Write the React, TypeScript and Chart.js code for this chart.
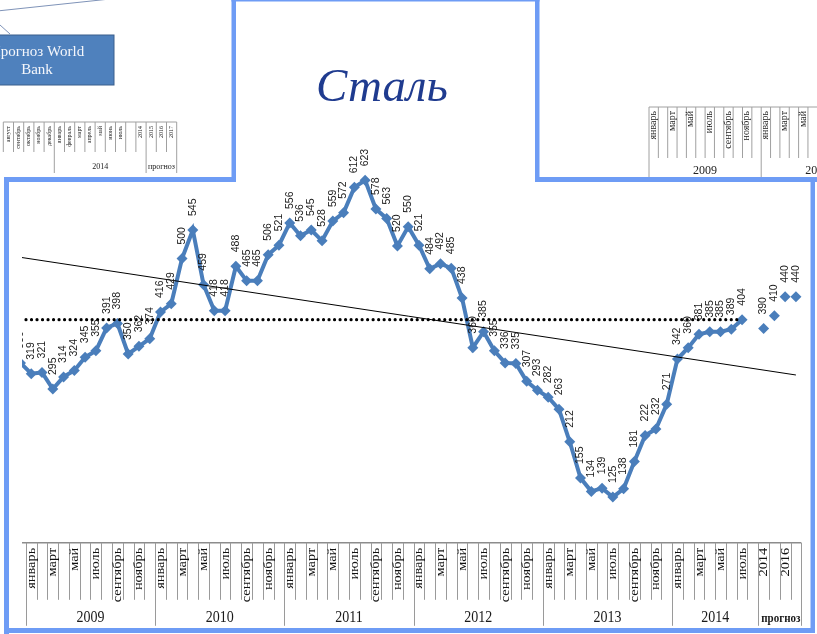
import React, { useEffect, useRef } from "react";
import { Chart, registerables } from "chart.js";

Chart.register(...registerables);

// ---------- data ----------
// Monthly steel price: Dec 2008 ... Jul 2014
const steelPrices = [
  336, 319, 321, 295, 314, 324, 345, 355, 391, 398, 350, 362, 374,
  416, 429, 500, 545, 459, 418, 418, 488, 465, 465, 506, 521,
  556, 536, 545, 528, 559, 572, 612, 623, 578, 563, 520, 550,
  521, 484, 492, 485, 438, 360, 385, 355, 336, 335, 307, 293,
  282, 263, 212, 155, 134, 139, 125, 138, 181, 222, 232, 271,
  342, 360, 381, 385, 385, 389, 404,
];
// World Bank forecast 2014..2017
const forecastYears = ["2014", "2015", "2016", "2017"];
const forecastValues = [390, 410, 440, 440];
const referenceLevel = 404;
const trendStart = 502;
const trendEnd = 317;

const monthNames = [
  "январь", "февраль", "март", "апрель", "май", "июнь",
  "июль", "август", "сентябрь", "октябрь", "ноябрь", "декабрь",
];
const yearLabels = ["2009", "2010", "2011", "2012", "2013", "2014"];
const monthsInYear = [12, 12, 12, 12, 12, 8];
const forecastGroupLabel = "прогноз";

// ---------- category construction ----------
type Cat = { label: string; tick: string; group: number };
const cats: Cat[] = [{ label: "декабрь 2008", tick: "", group: -1 }];
yearLabels.forEach((y, gi) => {
  for (let m = 0; m < monthsInYear[gi]; m++) {
    cats.push({ label: monthNames[m] + " " + y, tick: m % 2 === 0 ? monthNames[m] : "", group: gi });
  }
});
forecastYears.forEach((y, k) => {
  cats.push({ label: "прогноз " + y, tick: k % 2 === 0 ? y : "", group: yearLabels.length });
});
const groupNames = [...yearLabels, forecastGroupLabel];
const N = cats.length;

const mainData: (number | null)[] = cats.map((_, i) => (i < steelPrices.length ? steelPrices[i] : null));
const forecastData: (number | null)[] = cats.map((_, i) => {
  const k = i - (N - forecastValues.length);
  return k >= 0 ? forecastValues[k] : null;
});
const refData: (number | null)[] = cats.map((_, i) => (i < steelPrices.length ? referenceLevel : null));
const trendData: (number | null)[] = cats.map((_, i) => (i === 0 ? trendStart : i === N - 1 ? trendEnd : null));

const SERIES_BLUE = "#4a7ebb";
const FRAME = "#6e9cf5";

const valueLabelPlugin = {
  id: "valueLabels",
  afterDatasetsDraw(chart: any) {
    const ctx = chart.ctx;
    [0, 1].forEach((di) => {
      const meta = chart.getDatasetMeta(di);
      const ds = chart.data.datasets[di];
      meta.data.forEach((el: any, i: number) => {
        const v = ds.data[i];
        if (v == null) return;
        ctx.save();
        ctx.translate(el.x, el.y - 14);
        ctx.rotate(-Math.PI / 2);
        ctx.font = '10.5px "Liberation Sans"';
        ctx.fillStyle = "#1a1a1a";
        ctx.textAlign = "left";
        ctx.textBaseline = "middle";
        ctx.fillText(String(v), 0, 0);
        ctx.restore();
      });
    });
  },
};

const tableAxisPlugin = {
  id: "tableAxis",
  afterDraw(chart: any) {
    const ctx = chart.ctx;
    const xs = chart.scales.x;
    const step = xs.getPixelForValue(1) - xs.getPixelForValue(0);
    const edge = (i: number) => xs.getPixelForValue(i) - step / 2;
    const y0 = chart.chartArea.bottom - 2;
    ctx.save();
    ctx.strokeStyle = "#8c8c8c";
    ctx.lineWidth = 1.5;
    ctx.beginPath();
    ctx.moveTo(edge(0), y0);
    ctx.lineTo(edge(N), y0);
    ctx.stroke();
    ctx.lineWidth = 1;
    ctx.strokeStyle = "#9a9a9a";
    for (let i = 1; i <= N; i++) {
      const isGroupEdge = i === N || cats[i].group !== cats[i - 1].group;
      const x = Math.round(edge(i)) + 0.5;
      ctx.beginPath();
      ctx.moveTo(x, y0);
      ctx.lineTo(x, isGroupEdge ? y0 + 83 : y0 + 57);
      ctx.stroke();
    }
    // month ticks
    cats.forEach((c, i) => {
      if (!c.tick || c.group < 0) return;
      ctx.save();
      ctx.translate(xs.getPixelForValue(i) + 0.5, y0 + 5);
      ctx.scale(1, 1.25);
      ctx.rotate(-Math.PI / 2);
      ctx.font = '11.5px "Liberation Serif"';
      ctx.fillStyle = "#111";
      ctx.textAlign = "right";
      ctx.textBaseline = "middle";
      ctx.fillText(c.tick, 0, 0);
      ctx.restore();
    });
    // group labels
    groupNames.forEach((g, gi) => {
      const idx = cats.map((c, i) => (c.group === gi ? i : -1)).filter((i) => i >= 0);
      const a = edge(idx[0]);
      const b = edge(idx[idx.length - 1] + 1);
      ctx.save();
      const isForecast = gi === yearLabels.length;
      if (isForecast) {
        ctx.translate(a + 3, y0 + 79);
        ctx.scale(1, 1.2);
        ctx.font = 'bold 11px "Liberation Serif"';
        ctx.textAlign = "left";
      } else {
        ctx.translate((a + b) / 2, y0 + 79);
        ctx.scale(1, 1.25);
        ctx.font = '14px "Liberation Serif"';
        ctx.textAlign = "center";
      }
      ctx.fillStyle = "#1a1a1a";
      ctx.textBaseline = "alphabetic";
      ctx.fillText(g, 0, 0);
      ctx.restore();
    });
    ctx.restore();
  },
};

function MiniTable(props: {
  x: number; top: number; colW: number; cols: string[]; groups: { label: string; from: number; to: number }[];
  monthH: number; yearH: number; fs: number; yfs: number; right: number;
}) {
  const { x, top, colW, cols, groups, monthH, yearH, fs, yfs, right } = props;
  const edges = new Set<number>();
  groups.forEach((g) => { edges.add(g.from); edges.add(g.to); });
  const lines = [];
  for (let k = 0; k <= cols.length; k++) {
    const xx = x + k * colW;
    if (xx > right) break;
    lines.push(
      <line key={"l" + k} x1={xx} y1={top} x2={xx} y2={top + (edges.has(k) ? monthH + yearH : monthH)} stroke="#a0a0a0" strokeWidth={1} />
    );
  }
  return (
    <g>
      <line x1={x} y1={top} x2={Math.min(right, x + cols.length * colW)} y2={top} stroke="#a0a0a0" strokeWidth={1} />
      {lines}
      {cols.map((c, k) =>
        c ? (
          <text key={"t" + k} fontFamily="Liberation Serif" fontSize={fs} fill="#222" textAnchor="end" dominantBaseline="middle"
            transform={`translate(${x + (k + 0.5) * colW},${top + 4}) rotate(-90)`}>{c}</text>
        ) : null
      )}
      {groups.map((g, gi) => (
        <text key={"g" + gi} fontFamily="Liberation Serif" fontSize={yfs} fill="#222" textAnchor="middle"
          x={x + ((g.from + g.to) / 2) * colW} y={top + monthH + yearH - 4}>{g.label}</text>
      ))}
    </g>
  );
}

export default function App() {
  const canvasRef = useRef<HTMLCanvasElement | null>(null);
  useEffect(() => {
    const canvas = canvasRef.current;
    if (!canvas) return;
    const chart = new Chart(canvas, {
      type: "line",
      data: {
        labels: cats.map((c) => c.label),
        datasets: [
          {
            label: "Сталь",
            data: mainData,
            borderColor: SERIES_BLUE,
            backgroundColor: SERIES_BLUE,
            borderWidth: 4,
            pointStyle: "rectRot",
            pointRadius: 5.5,
            pointBorderWidth: 0,
            pointBackgroundColor: SERIES_BLUE,
            tension: 0,
            order: 3,
          },
          {
            label: "прогноз",
            data: forecastData,
            showLine: false,
            borderColor: SERIES_BLUE,
            backgroundColor: SERIES_BLUE,
            pointStyle: "rectRot",
            pointRadius: 5.5,
            pointBorderWidth: 0,
            pointBackgroundColor: SERIES_BLUE,
            order: 3,
          },
          {
            label: "уровень",
            data: refData,
            borderColor: "#000",
            borderWidth: 3.2,
            borderDash: [0.01, 5.5],
            borderCapStyle: "round",
            pointRadius: 0,
            order: 2,
          },
          {
            label: "тренд",
            data: trendData,
            borderColor: "#000",
            borderWidth: 1,
            pointRadius: 0,
            spanGaps: true,
            order: 1,
          },
        ],
      } as any,
      options: {
        animation: false,
        responsive: false,
        maintainAspectRatio: false,
        layout: { padding: { left: 15.1, right: 15.7, top: 131.4, bottom: 89.2 } },
        plugins: { legend: { display: false }, tooltip: { enabled: false } },
        scales: {
          x: { type: "category", display: false, offset: true },
          y: { display: false, min: 50, max: 700 },
        },
      } as any,
      plugins: [valueLabelPlugin, tableAxisPlugin],
    });
    return () => chart.destroy();
  }, []);

  const tlCols = ["август", "сентябрь", "октябрь", "ноябрь", "декабрь", "январь", "февраль", "март", "апрель", "май", "июнь", "июль", "", "2014", "2015", "2016", "2017"];
  const trCols = ["январь", "", "март", "", "май", "", "июль", "", "сентябрь", "", "ноябрь", "", "январь", "", "март", "", "май", ""];

  return (
    <div style={{ position: "absolute", left: 0, top: 0, width: 817, height: 634, background: "#fff", overflow: "hidden" }}>
      <canvas ref={canvasRef} width={817} height={634} style={{ position: "absolute", left: 0, top: 0, display: "block" }} />
      <svg width={817} height={634} style={{ position: "absolute", left: 0, top: 0, pointerEvents: "none" }}>
        {/* insets backgrounds and left mask */}
        <rect x={0} y={0} width={233} height={178} fill="#fff" />
        <rect x={537} y={0} width={280} height={178} fill="#fff" />
        <rect x={9} y={181} width={13} height={447} fill="#fff" />

        {/* top-left inset */}
        <line x1={0} y1={10.7} x2={110} y2={-1} stroke="#7f93b8" strokeWidth={1} />
        <line x1={0} y1={25} x2={10} y2={34} stroke="#7f93b8" strokeWidth={1} />
        <rect x={-40} y={35} width={154} height={50} fill="#4f81bd" stroke="#3a5f8c" strokeWidth={1} />
        <text x={37} y={56} fill="#f4f6fb" fontFamily="Liberation Serif" fontSize={15} textAnchor="middle">Прогноз World</text>
        <text x={37} y={74} fill="#f4f6fb" fontFamily="Liberation Serif" fontSize={15} textAnchor="middle">Bank</text>
        <MiniTable x={3.3} top={122} colW={10.2} cols={tlCols}
          groups={[{ label: "2014", from: 5, to: 14 }, { label: "прогноз", from: 14, to: 17 }]}
          monthH={30} yearH={21} fs={6} yfs={8} right={180} />

        {/* top-right inset */}
        <MiniTable x={649} top={107} colW={9.35} cols={trCols}
          groups={[{ label: "2009", from: 0, to: 12 }, { label: "2010", from: 12, to: 24 }]}
          monthH={51} yearH={20} fs={10} yfs={12} right={817} />

        {/* title */}
        <text x={316} y={101} fill="#1f3b8f" fontFamily="Liberation Serif" fontStyle="italic" fontSize={47}>Сталь</text>

        {/* frame */}
        <rect x={4} y={177} width={232} height={5} fill={FRAME} />
        <rect x={231.5} y={0} width={4.5} height={182} fill={FRAME} />
        <rect x={231.5} y={0} width={308} height={1.5} fill={FRAME} />
        <rect x={535} y={0} width={4.5} height={182} fill={FRAME} />
        <rect x={535} y={177} width={282} height={5} fill={FRAME} />
        <rect x={4} y={177} width={5} height={457} fill={FRAME} />
        <rect x={4} y={628} width={811} height={5} fill={FRAME} />
        <rect x={810.5} y={177} width={4.5} height={456} fill={FRAME} />
      </svg>
    </div>
  );
}
